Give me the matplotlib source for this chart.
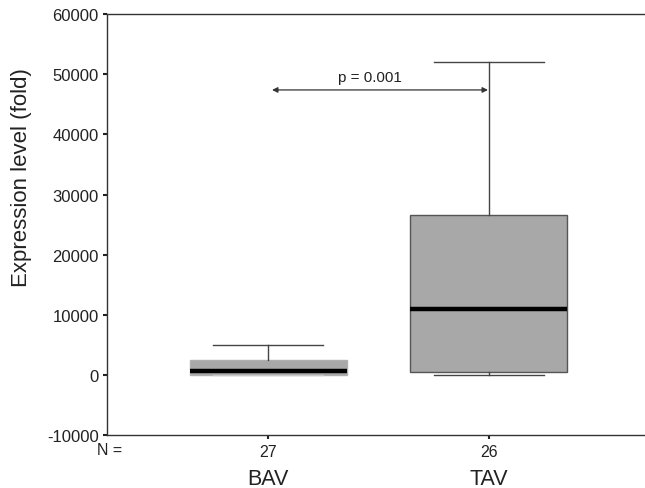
import matplotlib
matplotlib.use("Agg")
import matplotlib.pyplot as plt
from matplotlib.transforms import blended_transform_factory

groups = ["BAV", "TAV"]
counts = [27, 26]
whisker_low = [0, 0]
q1 = [50, 500]
medians = [700, 11000]
q3 = [2500, 26600]
whisker_high = [5000, 52100]
p_text = "p = 0.001"
arrow_y = 47400
yticks = [-10000, 0, 10000, 20000, 30000, 40000, 50000, 60000]

plt.rcParams['font.family'] = ['Liberation Sans', 'DejaVu Sans']
fig = plt.figure(figsize=(6.45, 4.89), dpi=100)
ax = fig.add_axes([0.166, 0.108, 0.834, 0.861])

stats = []
for i, g in enumerate(groups):
    stats.append(dict(label=g, whislo=whisker_low[i], q1=q1[i], med=medians[i],
                      q3=q3[i], whishi=whisker_high[i], fliers=[]))
positions = [1, 2]
res = ax.bxp(stats, positions=positions, widths=0.71, patch_artist=True, showfliers=False,
             boxprops=dict(facecolor='#a8a8a8', edgecolor='#555555', linewidth=1.0),
             medianprops=dict(color='black', linewidth=3.2),
             whiskerprops=dict(color='#444444', linewidth=1.0),
             capprops=dict(color='#444444', linewidth=1.0), capwidths=0.5)
res['boxes'][0].set_edgecolor('#b0b0b0')
res['caps'][0].set_color('#c8c8c8')
res['whiskers'][0].set_color('#c8c8c8')

ax.set_xlim(0.268, 2.71)
ax.set_ylim(-10000, 60000)
ax.set_yticks(yticks)
ax.set_yticklabels([str(v) for v in yticks], fontsize=12, color='#222222')
ax.set_xticks(positions)
ax.set_xticklabels([str(c) for c in counts], fontsize=11.5, color='#222222')
ax.tick_params(axis='both', direction='out', length=3, width=1.5, color='#222222', pad=3)

ax.spines['right'].set_visible(False)
for s in ['left', 'bottom', 'top']:
    ax.spines[s].set_color('#333333')
    ax.spines[s].set_linewidth(1.0)

fig.text(22 / 645, 1 - 178 / 489, "Expression level (fold)", rotation=90,
         ha='center', va='center', fontsize=16, color='#222222')

ax.annotate('', xy=(1.997, arrow_y), xytext=(1.017, arrow_y),
            arrowprops=dict(arrowstyle='<|-|>', color='#333333', lw=0.9,
                            mutation_scale=8, shrinkA=0, shrinkB=0))
ax.text(1.46, 49600, p_text, ha='center', va='center', fontsize=11, color='#222222')

fig.text(97 / 645, 1 - 451 / 489, "N =", ha='left', va='center', fontsize=11.5, color='#222222')
tr = blended_transform_factory(ax.transData, fig.transFigure)
for pos, g in zip(positions, groups):
    ax.text(pos, 1 - 480 / 489, g, transform=tr,
            ha='center', va='center', fontsize=15.5, color='#222222')

fig.savefig("out.png", dpi=100)
